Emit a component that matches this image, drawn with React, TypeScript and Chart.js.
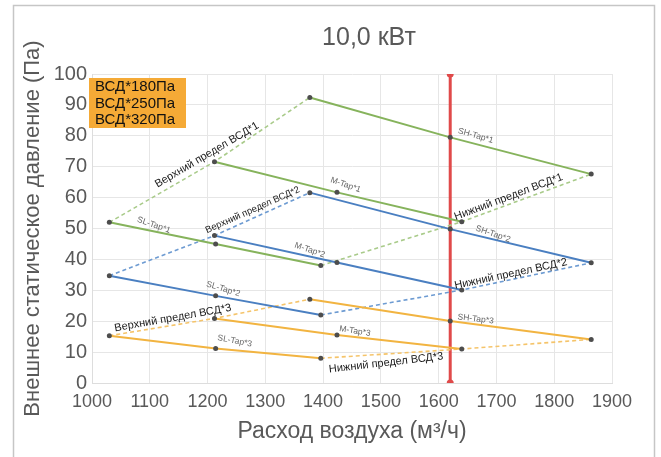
import React, { useEffect, useRef } from "react";
import { Chart, registerables } from "chart.js";

Chart.register(...registerables);

// ---- data (air flow in m³/h, pressure in Pa) ----
const flowSL = [1030, 1214, 1396];
const flowM = [1212, 1424, 1640];
const flowSH = [1377, 1620, 1864];
const flowUpper = [1030, 1212, 1377];
const flowLower = [1396, 1640, 1864];

const sl1 = [52.0, 45.0, 38.0];
const m1 = [71.6, 61.7, 52.2];
const sh1 = [92.4, 79.5, 67.6];
const upper1 = [52.0, 71.6, 92.4];
const lower1 = [38.0, 52.2, 67.6];

const sl2 = [34.7, 28.2, 22.0];
const m2 = [47.7, 39.0, 30.1];
const sh2 = [61.6, 49.8, 38.9];
const upper2 = [34.7, 47.7, 61.6];
const lower2 = [22.0, 30.1, 38.9];

const sl3 = [15.3, 11.2, 8.0];
const m3 = [20.9, 15.5, 11.0];
const sh3 = [27.1, 20.1, 14.1];
const upper3 = [15.3, 20.9, 27.1];
const lower3 = [8.0, 11.0, 14.1];

const limitFlow = [1620, 1620];
const limitPressure = [0, 100];

const legendLabels = ["ВСД*180Па", "ВСД*250Па", "ВСД*320Па"];
const titleText = "10,0 кВт";
const xTitle = "Расход воздуха (м³/ч)";
const yTitle = "Внешнее статическое давление (Па)";

// text annotations anchored at data coordinates
const annotations = [
  { text: "Верхний предел ВСД*1", x: 1199, y: 73.8, angle: -30.6, size: 11, color: "#1a1a1a" },
  { text: "Верхний предел ВСД*2", x: 1278, y: 56.0, angle: -24, size: 9.5, color: "#1a1a1a" },
  { text: "Верхний предел ВСД*3", x: 1140, y: 21.0, angle: -10, size: 11, color: "#1a1a1a" },
  { text: "Нижний предел ВСД*1", x: 1721, y: 60.2, angle: -20.7, size: 11, color: "#1a1a1a" },
  { text: "Нижний предел ВСД*2", x: 1725, y: 35.3, angle: -12, size: 11, color: "#1a1a1a" },
  { text: "Нижний предел ВСД*3", x: 1509, y: 6.5, angle: -6.6, size: 11, color: "#1a1a1a" },
  { text: "SL-Tap*1", x: 1107, y: 51.1, angle: 19, size: 8.5, color: "#666666" },
  { text: "M-Tap*1", x: 1439, y: 64.1, angle: 19, size: 8.5, color: "#666666" },
  { text: "SH-Tap*1", x: 1664, y: 80.0, angle: 16, size: 8.5, color: "#666666" },
  { text: "SL-Tap*2", x: 1227, y: 30.4, angle: 17, size: 8.5, color: "#666666" },
  { text: "M-Tap*2", x: 1377, y: 43.0, angle: 19, size: 8.5, color: "#666666" },
  { text: "SH-Tap*2", x: 1694, y: 48.2, angle: 19, size: 8.5, color: "#666666" },
  { text: "SL-Tap*3", x: 1247, y: 13.6, angle: 11, size: 8.5, color: "#666666" },
  { text: "M-Tap*3", x: 1455, y: 16.8, angle: 9, size: 8.5, color: "#666666" },
  { text: "SH-Tap*3", x: 1664, y: 20.7, angle: 7, size: 8.5, color: "#666666" },
];

const FONT = "'Liberation Sans', Arial, sans-serif";
const GREEN = "#86b35c";
const GREEN_D = "#a9cb8a";
const BLUE = "#4a7fc1";
const BLUE_D = "#6d9bd2";
const YELLOW = "#f2b441";
const YELLOW_D = "#f5c46a";

const pts = (xs: number[], ys: number[]) => xs.map((x, i) => ({ x, y: ys[i] }));

const solid = (data: any, color: string) => ({
  data,
  borderColor: color,
  backgroundColor: color,
  borderWidth: 2,
  pointRadius: 2.5,
  pointBackgroundColor: "#4d4d4d",
  pointBorderColor: "#4d4d4d",
  pointBorderWidth: 0,
  showLine: true,
  fill: false,
  tension: 0,
  order: 1,
});
const dashed = (data: any, color: string) => ({
  data,
  borderColor: color,
  backgroundColor: color,
  borderWidth: 1.6,
  borderDash: [4, 3],
  pointRadius: 0,
  showLine: true,
  fill: false,
  tension: 0,
  order: 2,
});

const decoPlugin = {
  id: "deco",
  beforeDraw(chart: any) {
    const ctx = chart.ctx;
    ctx.save();
    ctx.fillStyle = "#ffffff";
    ctx.fillRect(0, 0, chart.width, chart.height);
    ctx.strokeStyle = "#c6c6c6";
    ctx.lineWidth = 1.5;
    ctx.strokeRect(13.5, 5.5, 641, 470);
    ctx.restore();
  },
  afterDatasetsDraw(chart: any) {
    const ctx = chart.ctx;
    const xs = chart.scales.x;
    const ys = chart.scales.y;
    ctx.save();
    ctx.textAlign = "center";
    ctx.textBaseline = "middle";
    for (const a of annotations) {
      const px = xs.getPixelForValue(a.x);
      const py = ys.getPixelForValue(a.y);
      ctx.save();
      ctx.translate(px, py);
      ctx.rotate((a.angle * Math.PI) / 180);
      ctx.font = `${a.size}px ${FONT}`;
      ctx.fillStyle = a.color;
      ctx.fillText(a.text, 0, 0);
      ctx.restore();
    }
    ctx.restore();
  },
  afterDraw(chart: any) {
    const ctx = chart.ctx;
    const ca = chart.chartArea;
    ctx.save();
    // title
    ctx.fillStyle = "#595959";
    ctx.font = `25px ${FONT}`;
    ctx.textAlign = "center";
    ctx.textBaseline = "middle";
    ctx.fillText(titleText, 369, 38);
    // x title
    ctx.font = `23px ${FONT}`;
    ctx.fillText(xTitle, (ca.left + ca.right) / 2, 432);
    // y title
    ctx.save();
    ctx.translate(33, (ca.top + ca.bottom) / 2);
    ctx.rotate(-Math.PI / 2);
    ctx.font = `22px ${FONT}`;
    ctx.fillText(yTitle, 0, 0);
    ctx.restore();
    // legend box
    const bx = ca.left - 3;
    const by = ca.top + 4;
    ctx.fillStyle = "#f5aa36";
    ctx.fillRect(bx, by, 97, 50);
    ctx.fillStyle = "#111111";
    ctx.font = `15px ${FONT}`;
    ctx.textAlign = "left";
    legendLabels.forEach((t, i) => {
      ctx.fillText(t, bx + 6, by + 9 + i * 16.5);
    });
    ctx.restore();
  },
};

export default function App() {
  const ref = useRef<HTMLCanvasElement | null>(null);
  useEffect(() => {
    if (!ref.current) return;
    const chart = new Chart(ref.current, {
      type: "scatter",
      data: {
        datasets: [
          {
            data: pts(limitFlow, limitPressure),
            borderColor: "#e04a4a",
            backgroundColor: "#c93a3a",
            borderWidth: 3,
            pointRadius: 2,
            showLine: true,
            order: 5,
          } as any,
          dashed(pts(flowUpper, upper1), GREEN_D),
          dashed(pts(flowLower, lower1), GREEN_D),
          dashed(pts(flowUpper, upper2), BLUE_D),
          dashed(pts(flowLower, lower2), BLUE_D),
          dashed(pts(flowUpper, upper3), YELLOW_D),
          dashed(pts(flowLower, lower3), YELLOW_D),
          solid(pts(flowSL, sl1), GREEN),
          solid(pts(flowM, m1), GREEN),
          solid(pts(flowSH, sh1), GREEN),
          solid(pts(flowSL, sl2), BLUE),
          solid(pts(flowM, m2), BLUE),
          solid(pts(flowSH, sh2), BLUE),
          solid(pts(flowSL, sl3), YELLOW),
          solid(pts(flowM, m3), YELLOW),
          solid(pts(flowSH, sh3), YELLOW),
        ],
      },
      options: {
        responsive: false,
        animation: false,
        devicePixelRatio: 1,
        layout: { padding: { left: 0, right: 49, top: 74, bottom: 0 } },
        plugins: {
          legend: { display: false },
          title: { display: false },
          tooltip: { enabled: false },
        },
        scales: {
          x: {
            type: "linear",
            min: 1000,
            max: 1900,
            ticks: {
              stepSize: 100,
              color: "#595959",
              font: { family: FONT, size: 18 },
              padding: 8,
              maxRotation: 0,
              callback: (v: any) => String(v),
            },
            grid: { color: "#e6e6e6", drawTicks: false },
            border: { display: true, color: "#dddddd" },
            afterFit: (s: any) => {
              s.height = 74;
            },
          },
          y: {
            type: "linear",
            min: 0,
            max: 100,
            ticks: {
              stepSize: 10,
              color: "#595959",
              font: { family: FONT, size: 20 },
              padding: 5,
            },
            grid: { color: "#e6e6e6", drawTicks: false },
            border: { display: true, color: "#dddddd" },
            afterFit: (s: any) => {
              s.width = 92;
            },
          },
        },
      },
      plugins: [decoPlugin],
    });
    return () => chart.destroy();
  }, []);
  return (
    <div style={{ position: "absolute", left: 0, top: 0, width: 661, height: 457 }}>
      <canvas ref={ref} width={661} height={457} />
    </div>
  );
}
